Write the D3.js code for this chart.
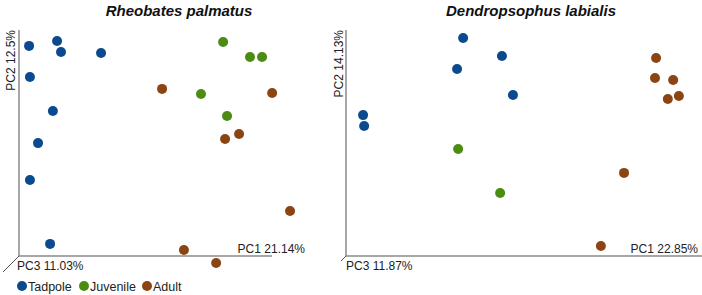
<!DOCTYPE html>
<html>
<head>
<meta charset="utf-8">
<script src="https://cdn.jsdelivr.net/npm/d3@7"></script>
<style>
  body { margin: 0; background: #fff; }
  text { font-family: "Liberation Sans", Arial, sans-serif; }
</style>
</head>
<body>
<div id="chart"></div>
<script>
// groups and colours
const groups = ["Tadpole", "Juvenile", "Adult"];
const groupColors = ["#0b4a8e", "#4c8c12", "#8b4513"];

// Rheobates palmatus, PC1 / PC2 scores (relative units 0-100)
const rpTadpole = [[3.6, 93.8], [13.6, 96.0], [15.0, 91.1], [29.3, 90.6], [3.9, 79.9], [12.1, 64.7], [6.8, 50.4], [3.9, 33.9], [11.1, 5.4]];
const rpJuvenile = [[72.9, 95.5], [82.5, 88.8], [86.8, 88.8], [65.0, 72.3], [74.3, 62.5]];
const rpAdult = [[51.1, 74.6], [90.4, 72.8], [78.6, 54.5], [73.6, 52.2], [96.8, 20.1], [58.9, 2.7], [70.4, -3.1]];

// Dendropsophus labialis
const dlTadpole = [[32.9, 97.3], [43.8, 89.3], [31.2, 83.5], [46.9, 71.9], [4.8, 62.9], [5.1, 58.0]];
const dlJuvenile = [[31.5, 47.8], [43.3, 28.1]];
const dlAdult = [[87.1, 88.4], [86.8, 79.5], [91.9, 78.6], [90.4, 70.1], [93.5, 71.4], [78.1, 37.1], [71.6, 4.5]];

const panels = [
  { title: "Rheobates palmatus", pc1: "PC1 21.14%", pc2: "PC2 12.5%", pc3: "PC3 11.03%",
    series: [rpTadpole, rpJuvenile, rpAdult],
    left: 19, right: 299, axisEnd: 272, titleX: 179, pc2X: 15, pc1End: 305, pc3X: 17, diag: 16 },
  { title: "Dendropsophus labialis", pc1: "PC1 22.85%", pc2: "PC2 14.13%", pc3: "PC3 11.87%",
    series: [dlTadpole, dlJuvenile, dlAdult],
    left: 346, right: 702, axisEnd: 702, titleX: 531, pc2X: 343, pc1End: 698, pc3X: 346, diag: 5 }
];

const W = 702, H = 295;
const TOP = 32, BASE = 256;

const svg = d3.select("#chart").append("svg")
  .attr("width", W).attr("height", H);

panels.forEach(p => {
  const x = d3.scaleLinear().domain([0, 100]).range([p.left, p.right]);
  const y = d3.scaleLinear().domain([0, 100]).range([BASE, TOP]);
  const g = svg.append("g");

  // axis frame
  g.append("line")
    .attr("x1", p.left).attr("y1", 30).attr("x2", p.left).attr("y2", BASE)
    .attr("stroke", "#8a8a8a").attr("stroke-width", 1.5);
  g.append("line")
    .attr("x1", p.left).attr("y1", BASE).attr("x2", p.axisEnd).attr("y2", BASE)
    .attr("stroke", "#8a8a8a").attr("stroke-width", 1.5);
  g.append("line")
    .attr("x1", p.left).attr("y1", BASE).attr("x2", p.left - p.diag).attr("y2", BASE + p.diag)
    .attr("stroke", "#555").attr("stroke-width", 1);

  g.append("text")
    .attr("x", p.titleX).attr("y", 16)
    .attr("text-anchor", "middle")
    .style("font-size", "15px").style("font-weight", "bold").style("font-style", "italic")
    .attr("fill", "#111")
    .text(p.title);

  g.append("text")
    .attr("transform", `translate(${p.pc2X},30) rotate(-90)`)
    .attr("text-anchor", "end")
    .style("font-size", "12px").attr("fill", "#222")
    .text(p.pc2);

  g.append("text")
    .attr("x", p.pc1End).attr("y", 253)
    .attr("text-anchor", "end")
    .style("font-size", "12px").attr("fill", "#222")
    .text(p.pc1);

  g.append("text")
    .attr("x", p.pc3X).attr("y", 270)
    .style("font-size", "12px").attr("fill", "#222")
    .text(p.pc3);

  p.series.forEach((s, i) => {
    g.selectAll(null)
      .data(s)
      .enter()
      .append("circle")
      .attr("cx", d => x(d[0]))
      .attr("cy", d => y(d[1]))
      .attr("r", 5)
      .attr("fill", groupColors[i]);
  });
});

// legend
const legendX = [22, 84, 147];
const legend = svg.append("g");
groups.forEach((name, i) => {
  legend.append("circle")
    .attr("cx", legendX[i]).attr("cy", 286).attr("r", 5)
    .attr("fill", groupColors[i]);
  legend.append("text")
    .attr("x", legendX[i] + 6).attr("y", 290.5)
    .style("font-size", "12.5px").attr("fill", "#222")
    .text(name);
});
</script>
</body>
</html>
